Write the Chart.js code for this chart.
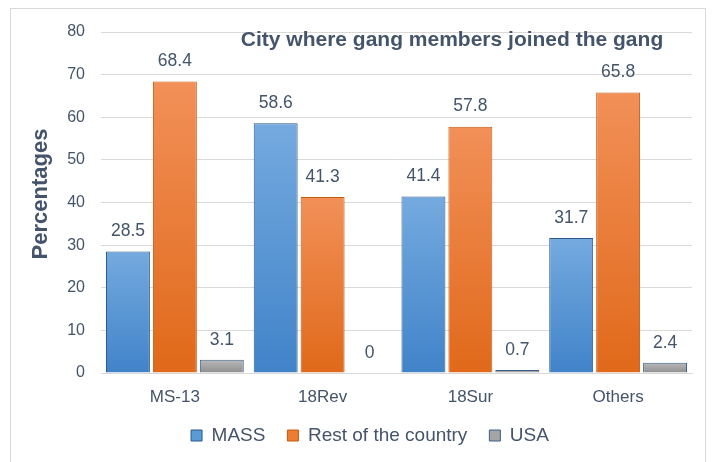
<!DOCTYPE html>
<html><head><meta charset="utf-8">
<script src="https://cdn.jsdelivr.net/npm/chart.js@4"></script>
<style>html,body{margin:0;padding:0;background:#fff}#wrap{width:717px;height:462px;position:relative}</style>
</head><body><div id="wrap"><canvas id="c" width="717" height="462"></canvas></div>
<script>
const categories = ['MS-13', '18Rev', '18Sur', 'Others'];
const seriesNames = ['MASS', 'Rest of the country', 'USA'];
const massValues = [28.5, 58.6, 41.4, 31.7];
const restValues = [68.4, 41.3, 57.8, 65.8];
const usaValues = [3.1, 0, 0.7, 2.4];
const yTicks = [0, 10, 20, 30, 40, 50, 60, 70, 80];
const chartTitle = 'City where gang members joined the gang';
const yTitle = 'Percentages';

const TEXT = '#44546a';
const FONT = '"Liberation Sans", Arial, sans-serif';
const palettes = [
  {top:'#74aadf', bottom:'#4183c9', border:'#2b5a8a', solid:'#5b9bd5'},
  {top:'#f29058', bottom:'#e0691a', border:'#c55a11', solid:'#ed7d31'},
  {top:'#b8b8b8', bottom:'#8f8f8f', border:'#3a5f8c', solid:'#a5a5a5'}
];
function grad(ctx, p){
  const chart = ctx.chart;
  const ys = chart.scales && chart.scales.y;
  if (!ys || ys.top === undefined || ctx.type !== 'data') return p.solid;
  const v = ctx.raw;
  const top = ys.getPixelForValue(v), base = ys.getPixelForValue(0);
  if (!isFinite(top) || base - top < 1) return p.solid;
  const g = chart.ctx.createLinearGradient(0, top, 0, base);
  g.addColorStop(0, p.top); g.addColorStop(1, p.bottom);
  return g;
}
const allValues = [massValues, restValues, usaValues];
const datasets = allValues.map((vals, i) => ({
  label: seriesNames[i],
  data: vals,
  backgroundColor: (ctx) => grad(ctx, palettes[i]),
  borderColor: palettes[i].border,
  borderWidth: 1,
  borderSkipped: 'bottom',
  categoryPercentage: 0.953,
  barPercentage: 0.936
}));

const decor = {
  id: 'decor',
  beforeDraw(chart){
    const c = chart.ctx;
    c.save();
    c.strokeStyle = '#d9d9d9'; c.lineWidth = 1;
    c.strokeRect(10.5, 8.5, 695, 470);
    c.restore();
    if (chart.legend && !chart.legend._shifted) {
      chart.legend.left += 19; chart.legend.right += 19; chart.legend._shifted = true;
    }
  },
  afterDatasetsDraw(chart){
    const c = chart.ctx;
    c.save();
    c.fillStyle = TEXT;
    c.font = '17.5px ' + FONT;
    c.textAlign = 'center'; c.textBaseline = 'middle';
    chart.data.datasets.forEach((ds, di) => {
      const meta = chart.getDatasetMeta(di);
      meta.data.forEach((el, i) => {
        c.fillText(String(ds.data[i]), el.x, el.y - 20);
      });
    });
    c.font = 'bold 21px ' + FONT;
    c.fillText(chartTitle, 452, 40);
    c.translate(41, 194);
    c.rotate(-Math.PI/2);
    c.font = 'bold 22px ' + FONT;
    c.fillText(yTitle, 0, 0);
    c.restore();
  }
};

new Chart(document.getElementById('c'), {
  type: 'bar',
  data: { labels: categories, datasets },
  options: {
    responsive: false,
    animation: false,
    layout: { padding: { left: 10, right: 25, top: 32, bottom: 7 } },
    plugins: {
      legend: {
        position: 'bottom',
        labels: {
          color: TEXT, font: { size: 19, family: FONT },
          boxWidth: 11, boxHeight: 11, padding: 22,
          generateLabels(chart){
            return chart.data.datasets.map((ds, i) => ({
              text: ds.label, fillStyle: palettes[i].solid, strokeStyle: palettes[i].border,
              lineWidth: 1, datasetIndex: i, hidden: false, fontColor: TEXT
            }));
          }
        }
      },
      tooltip: { enabled: false },
      title: { display: false }
    },
    scales: {
      x: {
        grid: { display: false, drawTicks: false },
        border: { display: true, color: '#d9d9d9' },
        ticks: { color: TEXT, font: { size: 17, family: FONT }, padding: 14 },
        afterFit(s){ s.height = 31; }
      },
      y: {
        min: 0, max: 80,
        afterBuildTicks(s){ s.ticks = yTicks.map(v => ({ value: v })); },
        grid: { color: '#d9d9d9', drawTicks: false },
        border: { display: false },
        ticks: { color: TEXT, font: { size: 16, family: FONT }, padding: 16 },
        afterFit(s){ s.width = 91; }
      }
    }
  },
  plugins: [decor]
});
</script></body></html>
